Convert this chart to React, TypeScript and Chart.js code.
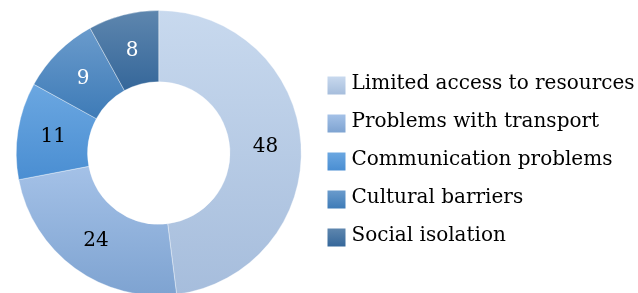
import React, { useEffect, useRef } from "react";
import { Chart, registerables } from "chart.js";

Chart.register(...registerables);

const categories = [
  "Limited access to resources",
  "Problems with transport",
  "Communication problems",
  "Cultural barriers",
  "Social isolation",
];
const values = [48, 24, 11, 9, 8];
const topColors = ["#c8d9ee", "#a4c1e7", "#6ba7e1", "#6a9bcc", "#5e86ae"];
const bottomColors = ["#a6bddc", "#7ea3d1", "#4a8ed2", "#3e7bb7", "#35679a"];
const labelColors = ["#000000", "#000000", "#000000", "#ffffff", "#ffffff"];

const FONT = "'DejaVu Serif', serif";
const LEGEND_SIZE = 20;
const BOX = 18;

function sliceGradient(ctx: any) {
  const chart = ctx.chart;
  const i = ctx.dataIndex;
  const area = chart.chartArea;
  const meta = chart.getDatasetMeta(0);
  const ctrl: any = meta && meta.controller;
  if (!area || !ctrl || !ctrl.outerRadius) return topColors[i];
  const cy = (area.top + area.bottom) / 2;
  const R = ctrl.outerRadius;
  const r = ctrl.innerRadius;
  const total = values.reduce((a, b) => a + b, 0);
  let cum = 0;
  for (let k = 0; k < i; k++) cum += values[k];
  const a0 = -Math.PI / 2 + (2 * Math.PI * cum) / total;
  const a1 = a0 + (2 * Math.PI * values[i]) / total;
  let minY = Infinity;
  let maxY = -Infinity;
  const steps = 60;
  for (let s = 0; s <= steps; s++) {
    const a = a0 + ((a1 - a0) * s) / steps;
    for (const rad of [r, R]) {
      const y = cy + rad * Math.sin(a);
      if (y < minY) minY = y;
      if (y > maxY) maxY = y;
    }
  }
  const g = chart.ctx.createLinearGradient(0, minY, 0, maxY);
  g.addColorStop(0, topColors[i]);
  g.addColorStop(1, bottomColors[i]);
  return g;
}

const legendBoxPlugin = {
  id: "legendBoxes",
  beforeDraw(chart: any) {
    const legend = chart.legend;
    if (!legend || !legend.legendItems) return;
    legend.legendItems.forEach((item: any) => {
      item.fillStyle = "rgba(0,0,0,0)";
      item.lineWidth = 0;
      item.strokeStyle = "rgba(0,0,0,0)";
    });
  },
  afterDraw(chart: any) {
    const legend = chart.legend;
    if (!legend || !legend.legendHitBoxes) return;
    const ctx = chart.ctx;
    ctx.save();
    legend.legendHitBoxes.forEach((hb: any, i: number) => {
      const top = hb.top + 7;
      const left = hb.left;
      const g = ctx.createLinearGradient(0, top, 0, top + BOX);
      g.addColorStop(0, topColors[i]);
      g.addColorStop(1, bottomColors[i]);
      ctx.fillStyle = g;
      ctx.fillRect(left, top, BOX, BOX);
    });
    ctx.restore();
  },
};

const valueLabelPlugin = {
  id: "valueLabels",
  afterDatasetsDraw(chart: any) {
    const meta = chart.getDatasetMeta(0);
    const ctx = chart.ctx;
    ctx.save();
    ctx.font = `20px ${FONT}`;
    ctx.textAlign = "center";
    ctx.textBaseline = "middle";
    meta.data.forEach((arc: any, i: number) => {
      const p = arc.tooltipPosition();
      ctx.fillStyle = labelColors[i];
      ctx.fillText(String(values[i]), p.x, p.y + 1);
    });
    ctx.restore();
  },
};

function measureMaxText(): number {
  const c = document.createElement("canvas");
  const ctx = c.getContext("2d");
  if (!ctx) return 282;
  ctx.font = `${LEGEND_SIZE}px ${FONT}`;
  return Math.max(...categories.map((t) => ctx.measureText(t).width));
}

export default function App() {
  const ref = useRef<HTMLCanvasElement>(null);
  useEffect(() => {
    document.body.style.margin = "0";
    if (!ref.current) return;
    const T = measureMaxText();
    const rightPad = Math.max(0, 286 - T);
    const chart = new Chart(ref.current, {
      type: "doughnut",
      data: {
        labels: categories,
        datasets: [
          {
            data: values,
            backgroundColor: sliceGradient as any,
            borderColor: "rgba(255,255,255,0.35)",
            borderWidth: 1,
          },
        ],
      },
      options: {
        responsive: false,
        animation: false,
        devicePixelRatio: 1,
        cutout: "50%",
        layout: { padding: { top: 10, bottom: 4, left: 0, right: rightPad } },
        plugins: {
          tooltip: { enabled: false },
          legend: {
            position: "right",
            title: {
              display: true,
              text: "",
              font: { size: 10, lineHeight: 1.2 },
              padding: { top: 0, bottom: 1 },
            },
            labels: {
              boxWidth: 14,
              boxHeight: 28,
              padding: 10,
              color: "#000000",
              font: { family: FONT, size: LEGEND_SIZE },
            },
          },
        },
      },
      plugins: [legendBoxPlugin, valueLabelPlugin],
    });
    return () => chart.destroy();
  }, []);
  return (
    <div style={{ width: 638, height: 293, overflow: "hidden" }}>
      <canvas ref={ref} width={638} height={300} style={{ display: "block" }} />
    </div>
  );
}
